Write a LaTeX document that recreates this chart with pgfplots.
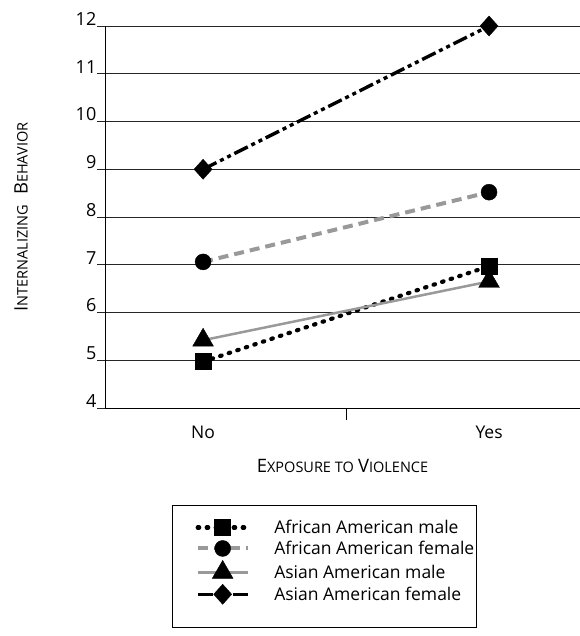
\documentclass[border=0pt]{standalone}
\usepackage{pgfplots}
\pgfplotsset{compat=1.18}
\usepackage{fontspec}
\setmainfont{Open Sans}
\newcommand{\fsc}[2]{{\fontsize{18.5bp}{20bp}\selectfont #1}{\fontsize{14.5bp}{16bp}\selectfont #2}}
\begin{document}
\begin{tikzpicture}
\begin{axis}[
  name=ax,
  at={(0,0)}, anchor=south west,
  scale only axis,
  width=475bp, height=382bp,
  xmin=-0.343, xmax=1.318,
  ymin=4, ymax=12,
  axis x line=bottom, axis y line=left,
  axis line style={-, line width=0.8bp, black},
  ytick={4,...,12},
  ymajorgrids,
  grid style={line width=0.8bp, black!85},
  ytick style={line width=0.8bp, black!85},
  major tick length=8bp,
  tick align=outside,
  yticklabel style={anchor=south east, inner sep=0.5bp, font=\fontsize{18bp}{20bp}\selectfont},
  /pgf/number format/assume math mode=true,
  xtick={0,1},
  xticklabels={No,Yes},
  xtick style={draw=none},
  xticklabel style={font=\fontsize{17.5bp}{19bp}\selectfont, yshift=-6bp},
  extra x ticks={0.5},
  extra x tick labels={},
  extra x tick style={xtick style={draw=black, line width=0.8bp}, major tick length=12bp},
  xlabel={\fsc{E}{XPOSURE TO}\, \fsc{V}{IOLENCE}},
  ylabel={\fsc{I}{NTERNALIZING}\quad\fsc{B}{EHAVIOR}},
  xlabel style={yshift=6bp},
  ylabel style={yshift=44bp},
  legend style={at={(axis description cs:0.141,-0.254)}, anchor=north west,
    draw=black, line width=1.2bp, font=\fontsize{17.5bp}{19bp}\selectfont,
    inner xsep=1bp, inner ysep=13bp, row sep=3bp, column sep=23bp,
    nodes={inner sep=1.5bp}},
  legend cell align=left,
  legend image code/.code={\path (-22bp,0bp);\draw[mark repeat=2, mark phase=2] plot coordinates {(0bp,0bp) (25bp,0bp) (50bp,0bp)};},
]
\addplot[black, line width=4.2bp, line cap=round, dash pattern=on 1.5bp off 7.5bp,
  mark=square*, mark size=8bp, mark options={solid, line width=0.4bp}] coordinates {(0,4.97) (1,6.97)};
\addlegendentry{African American male}
\addplot[black!40, line width=4bp, dash pattern=on 10bp off 6bp,
  mark=*, mark size=8bp, mark options={solid, fill=black, draw=black, line width=0.4bp}] coordinates {(0,7.06) (1,8.52)};
\addlegendentry{African American female}
\addplot[black!40, line width=2.5bp,
  mark=triangle*, mark size=12bp, mark options={solid, fill=black, draw=black, line width=0.4bp}] coordinates {(0,5.42) (1,6.65)};
\addlegendentry{Asian American male}
\addplot[black, line width=3.4bp, dash pattern=on 15bp off 4bp on 4bp off 4bp on 4bp off 4bp,
  mark=diamond*, mark size=10bp, mark options={solid, xscale=1.2, line width=0.4bp}] coordinates {(0,9.0) (1,12.0)};
\addlegendentry{Asian American female}
\addlegendimage{empty legend}
\addlegendentry{\rule{0pt}{3bp}}
\end{axis}
\pgfresetboundingbox
\useasboundingbox (-105bp,-228bp) rectangle (475bp,26bp+382bp);
\end{tikzpicture}
\end{document}
